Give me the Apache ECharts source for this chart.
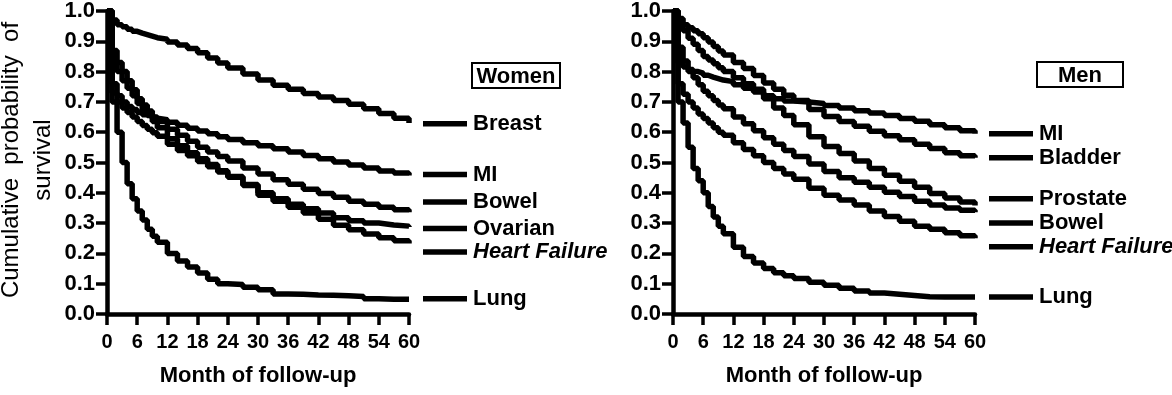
<!DOCTYPE html>
<html>
<head>
<meta charset="utf-8">
<script src="https://cdn.jsdelivr.net/npm/echarts@6/dist/echarts.min.js"></script>
<style>
html,body{margin:0;padding:0;background:#fff;}
#c{width:1172px;height:395px;}
</style>
</head>
<body>
<div id="c"></div>
<script>
// ---- data ----
const months = [0,1,2,3,4,5,6,7,8,9,10,12,14,16,18,20,22,24,27,30,33,36,39,42,45,48,51,54,57,60];

const womenNames = ['Breast','MI','Bowel','Ovarian','Heart Failure','Lung'];
const womenBreast  = [1.0,0.97,0.955,0.948,0.94,0.933,0.927,0.922,0.917,0.912,0.907,0.898,0.888,0.876,0.862,0.845,0.828,0.812,0.792,0.772,0.755,0.742,0.728,0.716,0.705,0.692,0.677,0.662,0.646,0.630];
const womenMI      = [1.0,0.76,0.72,0.70,0.685,0.675,0.665,0.658,0.652,0.646,0.641,0.633,0.623,0.613,0.604,0.595,0.585,0.576,0.565,0.555,0.545,0.535,0.523,0.512,0.502,0.492,0.482,0.472,0.465,0.457];
const womenBowel   = [1.0,0.87,0.83,0.80,0.77,0.74,0.71,0.69,0.67,0.65,0.635,0.61,0.59,0.57,0.55,0.535,0.52,0.505,0.482,0.462,0.443,0.428,0.412,0.398,0.385,0.372,0.362,0.352,0.344,0.336];
const womenOvarian = [1.0,0.83,0.80,0.77,0.745,0.72,0.695,0.675,0.655,0.635,0.615,0.578,0.555,0.532,0.512,0.493,0.473,0.454,0.427,0.40,0.38,0.362,0.347,0.333,0.318,0.308,0.300,0.294,0.290,0.287];
const womenHF      = [1.0,0.73,0.70,0.68,0.665,0.65,0.635,0.622,0.61,0.598,0.587,0.56,0.54,0.522,0.503,0.486,0.469,0.451,0.424,0.392,0.372,0.352,0.333,0.313,0.293,0.278,0.264,0.252,0.242,0.233];
const womenLung    = [1.0,0.70,0.60,0.50,0.43,0.38,0.34,0.31,0.28,0.257,0.237,0.20,0.175,0.155,0.135,0.115,0.10,0.097,0.088,0.08,0.066,0.065,0.063,0.062,0.06,0.058,0.05,0.049,0.049,0.048];
const womenLabelY  = [0.628,0.46,0.37,0.282,0.205,0.05];

const menNames = ['MI','Bladder','Prostate','Bowel','Heart Failure','Lung'];
const menMI       = [1.0,0.83,0.815,0.807,0.80,0.795,0.788,0.782,0.777,0.772,0.767,0.757,0.745,0.733,0.72,0.71,0.703,0.70,0.695,0.688,0.68,0.671,0.663,0.655,0.645,0.636,0.625,0.615,0.605,0.595];
const menBladder  = [1.0,0.975,0.955,0.945,0.935,0.925,0.912,0.898,0.883,0.868,0.855,0.83,0.81,0.787,0.762,0.742,0.722,0.705,0.675,0.652,0.635,0.62,0.603,0.588,0.575,0.56,0.546,0.532,0.522,0.516];
const menProstate = [1.0,0.955,0.935,0.91,0.89,0.87,0.85,0.838,0.826,0.813,0.80,0.78,0.76,0.742,0.71,0.68,0.655,0.625,0.585,0.553,0.53,0.505,0.48,0.458,0.438,0.418,0.398,0.383,0.37,0.358];
const menBowel    = [1.0,0.88,0.835,0.80,0.78,0.757,0.735,0.72,0.705,0.69,0.677,0.65,0.628,0.605,0.582,0.56,0.54,0.52,0.495,0.47,0.45,0.435,0.418,0.402,0.388,0.372,0.36,0.35,0.342,0.336];
const menHF       = [1.0,0.76,0.725,0.70,0.68,0.66,0.645,0.63,0.615,0.60,0.59,0.565,0.543,0.522,0.50,0.48,0.462,0.445,0.415,0.392,0.376,0.36,0.34,0.322,0.306,0.29,0.28,0.268,0.258,0.25];
const menLung     = [1.0,0.70,0.63,0.55,0.48,0.44,0.40,0.355,0.32,0.29,0.265,0.22,0.19,0.168,0.15,0.136,0.126,0.117,0.105,0.095,0.085,0.076,0.069,0.065,0.061,0.057,0.056,0.056,0.056,0.056];
const menLabelY   = [0.595,0.516,0.38,0.30,0.222,0.056];

const panelTitles = ['Women','Men'];
const xTitle = 'Month of follow-up';
const yTitle = 'Cumulative  probability  of\nsurvival';

// ---- chart ----
const FONT = '"Liberation Sans", Arial, Helvetica, sans-serif';
const chart = echarts.init(document.getElementById('c'));

const grids = [
  {left:107, top:10, width:302, height:304},
  {left:673, top:10, width:302, height:304}
];

function xAxisCfg(i){
  return {
    type:'value', gridIndex:i, min:0, max:60, interval:6,
    axisLine:{show:true, onZero:false, lineStyle:{color:'#000', width:4.5}},
    axisTick:{show:true, length:11, lineStyle:{color:'#000', width:3.5}},
    axisLabel:{color:'#000', fontSize:20, fontWeight:'bold', fontFamily:FONT, margin:18},
    splitLine:{show:false},
    name:xTitle, nameLocation:'middle', nameGap:51,
    nameTextStyle:{color:'#000', fontSize:22, fontWeight:'bold', fontFamily:FONT}
  };
}
function yAxisCfg(i){
  return {
    type:'value', gridIndex:i, min:0, max:1, interval:0.1,
    axisLine:{show:true, onZero:false, lineStyle:{color:'#000', width:4.5}},
    axisTick:{show:true, length:11, lineStyle:{color:'#000', width:3.5}},
    axisLabel:{color:'#000', fontSize:22, fontWeight:'bold', fontFamily:FONT, margin:12,
      formatter:v=>v.toFixed(1)},
    splitLine:{show:false}
  };
}

function mkSeries(name, vals, gi){
  return {
    name, type:'line', xAxisIndex:gi, yAxisIndex:gi, step:'end',
    showSymbol:false, symbol:'none', clip:false, animation:false,
    lineStyle:{color:'#000', width:5.5},
    data: months.map((m,k)=>[m, vals[k]])
  };
}

const womenVals = [womenBreast, womenMI, womenBowel, womenOvarian, womenHF, womenLung];
const menVals = [menMI, menBladder, menProstate, menBowel, menHF, menLung];

const series = [];
womenNames.forEach((n,k)=>series.push(mkSeries('W '+n, womenVals[k], 0)));
menNames.forEach((n,k)=>series.push(mkSeries('M '+n, menVals[k], 1)));

chart.setOption({
  animation:false,
  backgroundColor:'#fff',
  grid:grids,
  xAxis:[xAxisCfg(0), xAxisCfg(1)],
  yAxis:[yAxisCfg(0), yAxisCfg(1)],
  series
});

// ---- annotations (labels, boxes, y title) ----
const graphics = [];
function addLabels(names, ys, gi){
  const g = grids[gi];
  const right = g.left + g.width;
  names.forEach((n,k)=>{
    const py = chart.convertToPixel({yAxisIndex:gi}, ys[k]);
    graphics.push({type:'line', silent:true,
      shape:{x1:right+14, y1:py, x2:right+58, y2:py},
      style:{stroke:'#000', lineWidth:5.5}});
    graphics.push({type:'text', silent:true, x:right+64, y:py,
      style:{text:n, fill:'#000', font:(n==='Heart Failure'?'italic ':'')+'bold 22px '+FONT,
        textAlign:'left', textVerticalAlign:'middle'}});
  });
}
addLabels(womenNames, womenLabelY, 0);
addLabels(menNames, menLabelY, 1);

const boxes = [{x:472, y:63, w:88, h:25}, {x:1037, y:62, w:86, h:25}];
boxes.forEach((b,i)=>{
  graphics.push({type:'rect', silent:true, shape:{x:b.x, y:b.y, width:b.w, height:b.h},
    style:{fill:'#fff', stroke:'#000', lineWidth:2}});
  graphics.push({type:'text', silent:true, x:b.x+b.w/2, y:b.y+b.h/2+1,
    style:{text:panelTitles[i], fill:'#000', font:'bold 22px '+FONT, textAlign:'center', textVerticalAlign:'middle'}});
});

graphics.push({type:'text', silent:true, x:27, y:160, rotation:Math.PI/2,
  style:{text:yTitle, fill:'#000', font:'24px '+FONT, textAlign:'center', textVerticalAlign:'middle', lineHeight:32}});

chart.setOption({graphic:graphics});
</script>
</body>
</html>
